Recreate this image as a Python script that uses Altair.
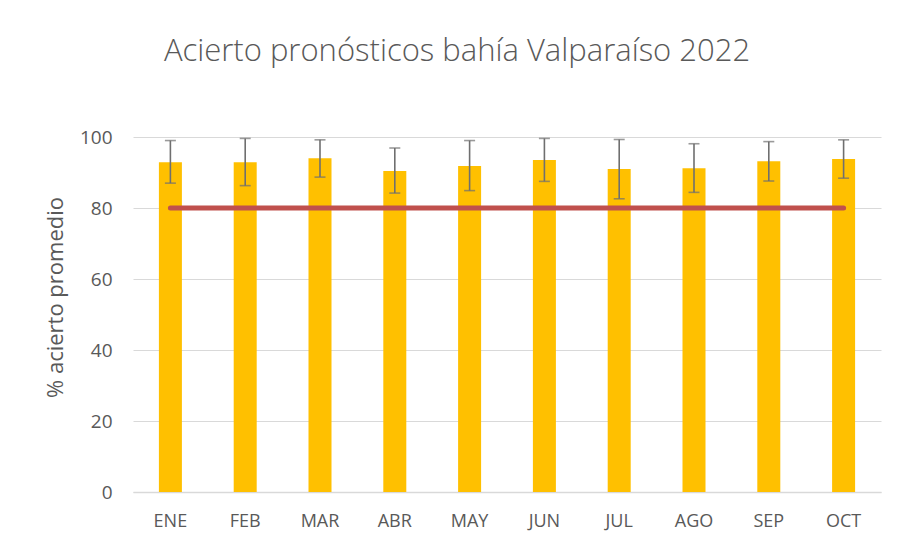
import altair as alt
import pandas as pd

months = ["ENE", "FEB", "MAR", "ABR", "MAY", "JUN", "JUL", "AGO", "SEP", "OCT"]
mean_pct = [92.9, 92.9, 94.0, 90.4, 91.8, 93.5, 91.0, 91.2, 93.2, 93.8]
err_low = [87.0, 86.3, 88.7, 84.2, 84.9, 87.5, 82.6, 84.4, 87.6, 88.4]
err_high = [99.0, 99.6, 99.2, 96.9, 99.0, 99.6, 99.3, 98.1, 98.7, 99.2]
target = [80] * len(months)

df = pd.DataFrame({
    "mes": months,
    "valor": mean_pct,
    "lo": err_low,
    "hi": err_high,
    "meta": target,
})

FONT = "Open Sans"
GRAY_TXT = "#595959"

x = alt.X("mes:N", sort=months, title=None,
          scale=alt.Scale(paddingInner=0.0, paddingOuter=0.0),
          axis=alt.Axis(labelAngle=0, labelFontSize=18, labelColor=GRAY_TXT,
                        labelFont=FONT, labelPadding=20, ticks=False, grid=False,
                        domainColor="#D9D9D9", domainWidth=1.5))

y_scale = alt.Scale(domain=[0, 100], nice=False)

bars = alt.Chart(df).mark_bar(color="#FFC000", size=23).encode(
    x=x,
    y=alt.Y("valor:Q", scale=y_scale, title="% acierto promedio",
            axis=alt.Axis(values=[0, 20, 40, 60, 80, 100], labelFontSize=19,
                          labelColor=GRAY_TXT, labelFont=FONT, labelPadding=21,
                          ticks=False, domain=False, gridColor="#D9D9D9",
                          gridWidth=1.2, titleFontSize=22, titleFont=FONT,
                          titleColor=GRAY_TXT, titleFontWeight="normal",
                          titleAngle=270, titleAlign="center",
                          titleBaseline="alphabetic", titleX=-71, titleY=160)),
)

xo = alt.X("mes:N", sort=months)

err = alt.Chart(df).mark_rule(color="#6F6F6F", strokeWidth=1.6).encode(
    x=xo,
    y=alt.Y("lo:Q", scale=y_scale),
    y2="hi:Q",
)
cap_lo = alt.Chart(df).mark_tick(color="#6F6F6F", size=11, thickness=1.6,
                                 orient="horizontal").encode(
    x=xo, y=alt.Y("lo:Q", scale=y_scale))
cap_hi = alt.Chart(df).mark_tick(color="#6F6F6F", size=11, thickness=1.6,
                                 orient="horizontal").encode(
    x=xo, y=alt.Y("hi:Q", scale=y_scale))

line = alt.Chart(df).mark_line(color="#C0504D", strokeWidth=5,
                               strokeCap="round").encode(
    x=xo,
    y=alt.Y("meta:Q", scale=y_scale),
)

chart = alt.layer(bars, err, cap_lo, cap_hi, line).properties(
    width=748,
    height=355,
    background="white",
    title=alt.TitleParams("Acierto pronósticos bahía Valparaíso 2022",
                          font=FONT, fontSize=31, fontWeight=300,
                          color=GRAY_TXT, anchor="middle", dx=-50, offset=60),
    autosize=alt.AutoSizeParams(type="none"),
    padding={"left": 125, "top": 129, "right": 8, "bottom": 52},
).configure_view(strokeWidth=0)

chart.save("out.html", embed_options={"renderer": "svg", "actions": False})
